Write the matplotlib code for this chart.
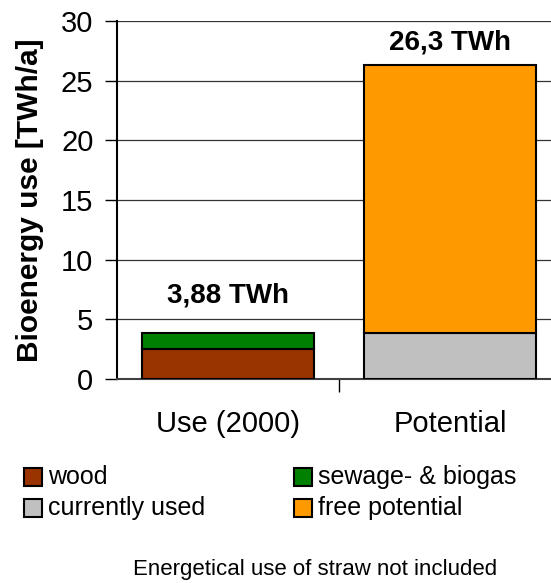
import numpy as np
import matplotlib.pyplot as plt
from matplotlib.patches import Rectangle

plt.rcParams['font.family'] = ['Liberation Sans', 'DejaVu Sans']

categories = ['Use (2000)', 'Potential']
wood = [2.55, 0]
sewage_biogas = [1.33, 0]
currently_used = [0, 3.88]
free_potential = [0, 22.42]
totals = ['3,88 TWh', '26,3 TWh']
total_vals = [3.88, 26.3]
legend_labels = ['wood', 'currently used', 'sewage- & biogas', 'free potential']

c_wood = '#993300'
c_bio = '#008000'
c_used = '#c0c0c0'
c_free = '#ff9900'

fig = plt.figure(figsize=(5.51, 5.83), dpi=100)
# axes runs past the right edge of the figure
ax = fig.add_axes([117/551, 1 - 379/583, 444/551, 358/583])

x = np.arange(len(categories))
w = 0.775
kw = dict(width=w, edgecolor='black', linewidth=1.5, zorder=3)
ax.bar(x, wood, color=c_wood, **kw)
ax.bar(x, sewage_biogas, bottom=wood, color=c_bio, **kw)
ax.bar(x[1:], currently_used[1:], color=c_used, **kw)
ax.bar(x[1:], free_potential[1:], bottom=currently_used[1:], color=c_free, **kw)

# label offsets above the stacks
label_gap = [2.0, 0.8]
for xi, lab, v, g in zip(x, totals, total_vals, label_gap):
    ax.text(xi, v + g, lab, ha='center', va='bottom', fontsize=20, fontweight='bold')

ax.set_xlim(-0.5, 1.5)
ax.set_ylim(0, 30)
ax.set_yticks(range(0, 31, 5))
ax.tick_params(axis='y', labelsize=21, length=9, width=1, direction='out', pad=8)
ax.set_xticks([0.5])
ax.set_xticklabels([''])
ax.tick_params(axis='x', length=9, width=1, direction='out')
for xi, c in zip(x, categories):
    ax.text(xi, -2.6, c, ha='center', va='top', fontsize=21)

ax.yaxis.grid(True, color='#333333', linewidth=0.9, zorder=0)
ax.set_axisbelow(True)
for s in ['top', 'right']:
    ax.spines[s].set_visible(False)
ax.spines['left'].set_linewidth(1.5)
ax.spines['bottom'].set_linewidth(1.5)
ax.spines['bottom'].set_color('#404040')

ax.set_ylabel('Bioenergy use [TWh/a]', fontsize=21.5, fontweight='bold')
ax.yaxis.set_label_coords((44 - 117) / 444, 0.5)

# legend drawn by hand in figure pixels, column by column
leg_cols = [24, 294]
leg_rows = [477, 508]
leg_colors = [c_wood, c_used, c_bio, c_free]
for i, (lab, col) in enumerate(zip(legend_labels, leg_colors)):
    px = leg_cols[i // 2]
    py = leg_rows[i % 2]
    fig.patches.append(Rectangle((px / 551, 1 - (py + 9) / 583), 18 / 551, 18 / 583,
                                 transform=fig.transFigure, facecolor=col,
                                 edgecolor='black', linewidth=1.5))
    fig.text((px + 24) / 551, 1 - py / 583, lab, ha='left', va='center', fontsize=18)

fig.text(315/551, 1 - 569/583, 'Energetical use of straw not included', ha='center', va='center',
         fontsize=16)

fig.savefig('out.png', dpi=100)
